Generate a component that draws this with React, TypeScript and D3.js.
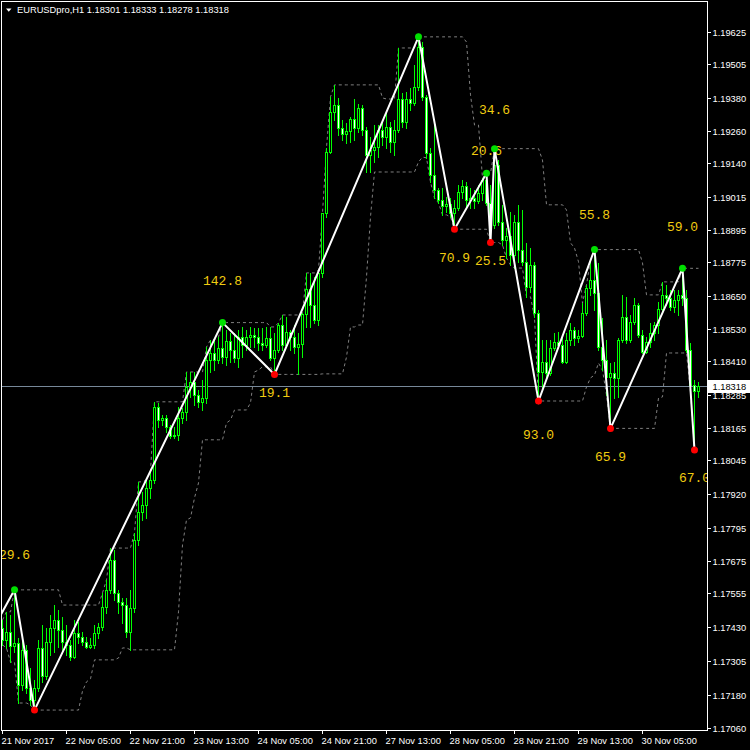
import React, { useEffect } from "react";
import * as d3 from "d3";

// ---------- DATA (EURUSDpro, H1) ----------
const opens = [
1.17428,1.17383,1.17413,1.17361,1.17372,1.17218,1.17347,1.17207,1.17162,1.17207,
1.17354,1.17251,1.17376,1.17428,1.17457,1.17420,1.17376,1.17365,1.17321,1.17409,
1.17394,1.17376,1.17358,1.17365,1.17409,1.17431,1.17505,1.17568,1.17678,1.17557,
1.17523,1.17512,1.17413,1.17501,1.17752,1.17855,1.17881,1.17944,1.17973,1.18242,
1.18194,1.18202,1.18168,1.18135,1.18139,1.18202,1.18224,1.18316,1.18334,1.18286,
1.18261,1.18275,1.18415,1.18441,1.18415,1.18460,1.18426,1.18485,1.18452,1.18423,
1.18500,1.18471,1.18500,1.18507,1.18500,1.18478,1.18471,1.18496,1.18423,1.18452,
1.18544,1.18471,1.18519,1.18500,1.18463,1.18474,1.18585,1.18677,1.18618,1.18563,
1.18736,1.18957,1.19182,1.19329,1.19355,1.19270,1.19248,1.19259,1.19304,1.19270,
1.19344,1.19263,1.19171,1.19189,1.19200,1.19263,1.19237,1.19274,1.19219,1.19263,
1.19377,1.19292,1.19377,1.19362,1.19421,1.19569,1.19385,1.19178,1.19097,1.19042,
1.19005,1.18983,1.18990,1.18957,1.18975,1.19034,1.19057,1.19005,1.19012,1.19001,
1.19031,1.19079,1.18994,1.18913,1.19134,1.18924,1.18858,1.18872,1.18802,1.18924,
1.18821,1.18777,1.18684,1.18765,1.18589,1.18371,1.18408,1.18367,1.18460,1.18482,
1.18471,1.18408,1.18489,1.18526,1.18496,1.18504,1.18589,1.18681,1.18710,1.18662,
1.18463,1.18415,1.18353,1.18367,1.18349,1.18489,1.18574,1.18489,1.18555,1.18618,
1.18507,1.18445,1.18482,1.18515,1.18544,1.18603,1.18655,1.18644,1.18611,1.18636,
1.18655,1.18644,1.18452,1.18323,1.18301];

const highs = [
1.17457,1.17487,1.17476,1.17568,1.17391,1.17383,1.17365,1.17280,1.17236,1.17383,
1.17439,1.17428,1.17476,1.17512,1.17494,1.17468,1.17439,1.17383,1.17457,1.17450,
1.17413,1.17394,1.17391,1.17439,1.17446,1.17557,1.17605,1.17722,1.17715,1.17568,
1.17538,1.17538,1.17568,1.17778,1.17966,1.17929,1.17973,1.18003,1.18261,1.18257,
1.18213,1.18213,1.18176,1.18168,1.18242,1.18238,1.18371,1.18371,1.18371,1.18305,
1.18342,1.18463,1.18489,1.18489,1.18500,1.18553,1.18526,1.18515,1.18515,1.18526,
1.18537,1.18526,1.18537,1.18533,1.18533,1.18533,1.18537,1.18537,1.18515,1.18552,
1.18581,1.18574,1.18526,1.18544,1.18515,1.18589,1.18736,1.18736,1.18721,1.18747,
1.18957,1.19197,1.19385,1.19429,1.19381,1.19300,1.19289,1.19311,1.19377,1.19359,
1.19355,1.19274,1.19237,1.19281,1.19281,1.19292,1.19326,1.19292,1.19300,1.19565,
1.19399,1.19403,1.19418,1.19502,1.19606,1.19587,1.19392,1.19197,1.19281,1.19049,
1.19049,1.19016,1.19012,1.19005,1.19060,1.19079,1.19071,1.19049,1.19042,1.19060,
1.19086,1.19103,1.19060,1.19194,1.19152,1.18987,1.18902,1.18961,1.18950,1.18987,
1.18968,1.18847,1.18828,1.18777,1.18600,1.18489,1.18489,1.18489,1.18515,1.18519,
1.18500,1.18515,1.18552,1.18537,1.18526,1.18625,1.18692,1.18784,1.18822,1.18773,
1.18570,1.18489,1.18404,1.18408,1.18496,1.18655,1.18648,1.18581,1.18644,1.18625,
1.18526,1.18500,1.18552,1.18555,1.18629,1.18703,1.18692,1.18673,1.18673,1.18673,
1.18753,1.18673,1.18478,1.18342,1.18333];

const lows = [
1.17365,1.17354,1.17302,1.17339,1.17151,1.17199,1.17188,1.17144,1.17125,1.17195,
1.17229,1.17240,1.17328,1.17339,1.17358,1.17347,1.17328,1.17310,1.17317,1.17372,
1.17365,1.17354,1.17354,1.17354,1.17391,1.17420,1.17483,1.17557,1.17531,1.17483,
1.17446,1.17394,1.17347,1.17487,1.17734,1.17826,1.17833,1.17907,1.17962,1.18168,
1.18176,1.18150,1.18128,1.18128,1.18121,1.18183,1.18194,1.18279,1.18250,1.18242,
1.18231,1.18257,1.18371,1.18378,1.18404,1.18404,1.18397,1.18408,1.18408,1.18390,
1.18426,1.18452,1.18463,1.18463,1.18452,1.18452,1.18463,1.18415,1.18362,1.18445,
1.18452,1.18463,1.18452,1.18441,1.18364,1.18426,1.18537,1.18537,1.18552,1.18544,
1.18721,1.18942,1.19178,1.19300,1.19245,1.19226,1.19215,1.19219,1.19226,1.19256,
1.19245,1.19108,1.19108,1.19145,1.19163,1.19208,1.19197,1.19182,1.19171,1.19256,
1.19274,1.19270,1.19337,1.19355,1.19410,1.19374,1.19160,1.19071,1.19012,1.18994,
1.18950,1.18961,1.18942,1.18897,1.18968,1.19012,1.18979,1.18975,1.18975,1.18994,
1.19005,1.18987,1.18848,1.18902,1.18913,1.18839,1.18791,1.18765,1.18754,1.18777,
1.18765,1.18648,1.18666,1.18574,1.18264,1.18316,1.18349,1.18360,1.18452,1.18460,
1.18404,1.18404,1.18471,1.18471,1.18482,1.18500,1.18581,1.18655,1.18600,1.18452,
1.18378,1.18286,1.18163,1.18275,1.18279,1.18482,1.18478,1.18482,1.18548,1.18500,
1.18441,1.18441,1.18463,1.18489,1.18515,1.18589,1.18618,1.18600,1.18592,1.18581,
1.18618,1.18445,1.18297,1.18083,1.18278];

const closes = [
1.17383,1.17413,1.17361,1.17372,1.17218,1.17347,1.17207,1.17162,1.17207,1.17354,
1.17251,1.17376,1.17428,1.17457,1.17420,1.17376,1.17365,1.17321,1.17409,1.17394,
1.17376,1.17358,1.17365,1.17409,1.17431,1.17505,1.17568,1.17678,1.17557,1.17523,
1.17512,1.17413,1.17501,1.17752,1.17855,1.17881,1.17944,1.17973,1.18242,1.18194,
1.18202,1.18168,1.18135,1.18139,1.18202,1.18224,1.18316,1.18334,1.18286,1.18261,
1.18275,1.18415,1.18441,1.18415,1.18460,1.18426,1.18485,1.18452,1.18423,1.18500,
1.18471,1.18500,1.18507,1.18500,1.18478,1.18471,1.18496,1.18423,1.18452,1.18544,
1.18471,1.18519,1.18500,1.18463,1.18474,1.18585,1.18677,1.18618,1.18563,1.18736,
1.18957,1.19182,1.19329,1.19355,1.19270,1.19248,1.19259,1.19304,1.19270,1.19344,
1.19263,1.19171,1.19189,1.19200,1.19263,1.19237,1.19274,1.19219,1.19263,1.19377,
1.19292,1.19377,1.19362,1.19421,1.19569,1.19385,1.19178,1.19097,1.19042,1.19005,
1.18983,1.18990,1.18957,1.18975,1.19034,1.19057,1.19005,1.19012,1.19001,1.19031,
1.19079,1.18994,1.18913,1.19134,1.18924,1.18858,1.18872,1.18802,1.18924,1.18821,
1.18777,1.18684,1.18765,1.18589,1.18371,1.18408,1.18367,1.18460,1.18482,1.18471,
1.18408,1.18489,1.18526,1.18496,1.18504,1.18589,1.18681,1.18710,1.18662,1.18463,
1.18415,1.18353,1.18367,1.18349,1.18489,1.18574,1.18489,1.18555,1.18618,1.18507,
1.18445,1.18482,1.18515,1.18544,1.18603,1.18655,1.18644,1.18611,1.18636,1.18655,
1.18644,1.18452,1.18323,1.18301,1.18318];

// ZigZag pivots (bar index, price, type) and where their pip labels sit
// (labels of the bar-8 low and bar-104 high fall outside the visible plot in the reference)
const pivotBars = [-8, 3, 8, 55, 68, 104, 113, 121, 122, 123, 134, 148, 152, 170, 173];
const pivotPrices = [1.17272, 1.17568, 1.17125, 1.18553, 1.18362, 1.19606, 1.18897, 1.19103,
  1.18848, 1.19194, 1.18264, 1.18822, 1.18163, 1.18753, 1.18083];
const pivotIsHigh = [false, true, false, true, false, true, false, true, false, true, false, true, false, true, false];
const labelPrices = [NaN, 1.17693, NaN, 1.18705, 1.18292, NaN, 1.18791, 1.19184,
  1.18777, 1.19333, 1.18137, 1.18946, 1.18056, 1.18905, 1.17980];

const priceTicks = [1.19625, 1.19505, 1.19380, 1.19260, 1.19140, 1.19015, 1.18895, 1.18775,
  1.18650, 1.18530, 1.18410, 1.18285, 1.18165, 1.18045, 1.17920, 1.17795, 1.17675, 1.17555,
  1.17430, 1.17305, 1.17180, 1.17060];

const timeTickBars = [0, 16, 32, 48, 64, 80, 96, 112, 128, 144, 160];
const timeTickLabels = ["21 Nov 2017", "22 Nov 05:00", "22 Nov 21:00", "23 Nov 13:00", "24 Nov 05:00",
  "24 Nov 21:00", "27 Nov 13:00", "28 Nov 05:00", "28 Nov 21:00", "29 Nov 13:00", "30 Nov 05:00"];

const symbol = "EURUSDpro,H1";
const channelPeriod = 12;

// ---------- CHART ----------
const W = 750, H = 750;
const PL = 1.5, PR = 707.5, PT = 1.5, PB = 730.5;
const LIME = "#00ff00";
const AX_FONT = "'Liberation Sans', Arial, sans-serif";

export default function App() {
  useEffect(() => { document.body.style.margin = "0"; document.body.style.background = "#000"; }, []);

  const n = closes.length;
  const x = d3.scaleLinear().domain([0, n - 1]).range([2.5, 2.5 + 4 * (n - 1)]);
  const y = d3.scaleLinear().domain([1.17060, 1.19625]).range([727.7, 31.7]);

  // Donchian price channel
  const upper: number[] = [], lower: number[] = [];
  for (let i = 0; i < n; i++) {
    const s = Math.max(0, i - channelPeriod + 1);
    upper.push(d3.max(highs.slice(s, i + 1)) as number);
    lower.push(d3.min(lows.slice(s, i + 1)) as number);
  }
  const chLine = d3.line<number>().x((_, i) => x(i)).y(v => y(v));

  const zz = d3.line<number>().x((_, i) => x(pivotBars[i])).y(v => y(v));

  const last = closes[n - 1];
  const lastY = Math.round(y(last)) + 0.5;

  return (
    <svg width={W} height={H} style={{ position: "absolute", left: 0, top: 0, background: "#000" }}>
      <defs>
        <clipPath id="plot"><rect x={2} y={2} width={705} height={728} /></clipPath>
      </defs>
      <rect x={0} y={0} width={W} height={H} fill="#000" />
      <g clipPath="url(#plot)">
        {/* channel */}
        <path d={chLine(upper) || ""} fill="none" stroke="#808080" strokeWidth={1} strokeDasharray="3,3" />
        <path d={chLine(lower) || ""} fill="none" stroke="#808080" strokeWidth={1} strokeDasharray="3,3" />
        {/* current price line */}
        <line x1={PL} x2={PR} y1={lastY} y2={lastY} stroke="#778899" strokeWidth={1} />
        {/* labels */}
        {pivotBars.map((b, i) => {
          if (i === 0 || isNaN(labelPrices[i])) return null;
          const pips = Math.abs(Math.round((pivotPrices[i] - pivotPrices[i - 1]) * 1e5)) / 10;
          return (
            <text key={"l" + i} x={x(b)} y={y(labelPrices[i])} textAnchor="middle" dominantBaseline="central"
              fontFamily="'Liberation Mono', 'DejaVu Sans Mono', monospace" fontSize={13} fill="#f0cc10">
              {pips.toFixed(1)}
            </text>
          );
        })}
        {/* candles */}
        <g shapeRendering="crispEdges">
          {closes.map((c, i) => {
            const o = opens[i];
            const cx = x(i);
            const yt = Math.round(y(Math.max(o, c)));
            const yb = Math.round(y(Math.min(o, c)));
            const bull = c > o;
            return (
              <g key={i}>
                <line x1={cx} x2={cx} y1={Math.round(y(highs[i]))} y2={Math.round(y(lows[i])) + 1} stroke={LIME} strokeWidth={1} />
                <rect x={cx - 1.5} y={yt} width={3} height={yb - yt + 1} fill={LIME} />
                {yb - yt > 1 && (
                  <rect x={cx - 0.5} y={yt + 1} width={1} height={yb - yt - 1} fill={bull ? "#000" : "#fff"} />
                )}
              </g>
            );
          })}
        </g>
        {/* zigzag */}
        <path d={zz(pivotPrices) || ""} fill="none" stroke="#fff" strokeWidth={2} />
        {pivotBars.map((b, i) => i === 0 ? null : (
          <circle key={"p" + i} cx={x(b)} cy={y(pivotPrices[i])} r={3.5} fill={pivotIsHigh[i] ? "#00e000" : "#ff0000"} />
        ))}
      </g>

      {/* frame */}
      <rect x={PL} y={PT} width={PR - PL} height={PB - PT} fill="none" stroke="#fff" strokeWidth={1} shapeRendering="crispEdges" />

      {/* price axis */}
      {priceTicks.map((p, i) => {
        const ty = Math.round(y(p)) + 0.5;
        return (
          <g key={"t" + i}>
            <line x1={PR} x2={PR + 3.5} y1={ty} y2={ty} stroke="#fff" strokeWidth={1} />
            <text x={712.5} y={ty} dominantBaseline="central" fontFamily={AX_FONT} fontSize={9.3} fill="#fff">{p.toFixed(5)}</text>
          </g>
        );
      })}
      <rect x={708} y={lastY - 6.5} width={42} height={13} fill="#fff" />
      <text x={712.5} y={lastY} dominantBaseline="central" fontFamily={AX_FONT} fontSize={9.3} fill="#000">{last.toFixed(5)}</text>

      {/* time axis */}
      {timeTickBars.map((b, i) => {
        const tx = Math.round(x(b) - 0.5) + 0.5;
        return (
          <g key={"x" + i}>
            <line x1={tx} x2={tx} y1={PB} y2={PB + 3.5} stroke="#fff" strokeWidth={1} />
            <text x={tx - 1} y={741} dominantBaseline="central" fontFamily={AX_FONT} fontSize={9.3} fill="#fff">{timeTickLabels[i]}</text>
          </g>
        );
      })}

      {/* title */}
      <path d="M6,8.5 L11.5,8.5 L8.75,11.8 Z" fill="#fff" />
      <text x={17} y={13} fontFamily={AX_FONT} fontSize={9.3} fill="#fff">
        {`${symbol}  ${opens[n - 1].toFixed(5)} ${highs[n - 1].toFixed(5)} ${lows[n - 1].toFixed(5)} ${closes[n - 1].toFixed(5)}`}
      </text>
    </svg>
  );
}
